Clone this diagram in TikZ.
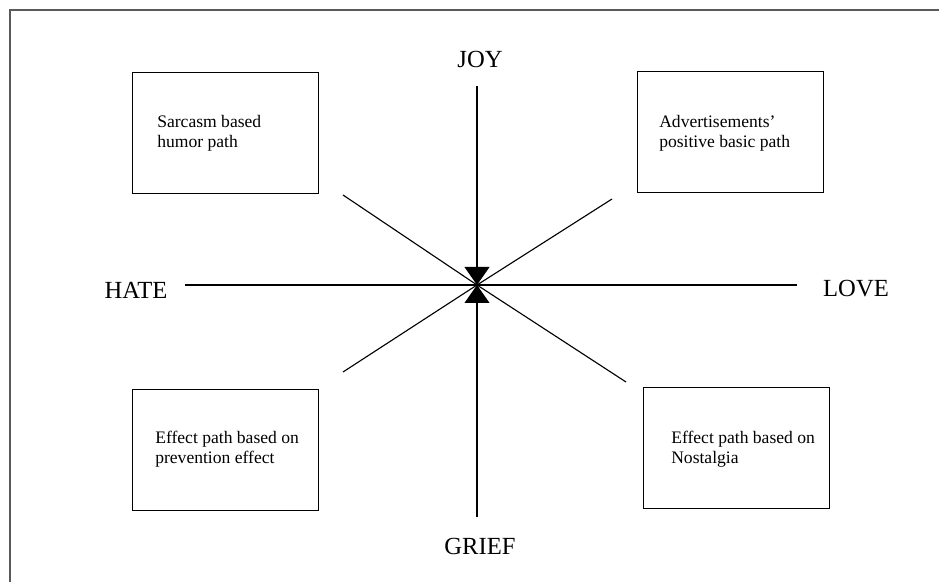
\documentclass[tikz,border=0pt]{standalone}
\usepackage{fontspec}
\setmainfont{Liberation Serif}
\usetikzlibrary{positioning, arrows.meta, calc}
\definecolor{framegray}{HTML}{5A5A5A}
\tikzset{axis label/.style={font=\fontsize{17.5}{21}\selectfont, inner sep=0pt},
         path box/.style={draw, line width=0.9pt, minimum width=132pt, minimum height=86pt, inner sep=0pt, anchor=north west},
         box text/.style={font=\fontsize{12.5}{14.2}\selectfont, align=left, inner sep=0pt, anchor=north west},
         axis/.style={line width=0.8pt},
         tip/.style={-{Triangle[length=12.8pt, width=17.7pt]}},
        }

\begin{document}
\begin{tikzpicture}[x=0.025cm, y=-0.025cm]
        \useasboundingbox (0,0) rectangle (939,582);
        \draw[framegray, line width=1.4pt](10,582)--(10,10)--(939,10);

        \coordinate(c)at(477,285);
        \node[axis label](joy)at(480,59){JOY};
        \node[axis label](grief)at(480,546){GRIEF};
        \node[axis label](hate)at(136,290){HATE};
        \node[axis label](love)at(856,289){LOVE};

        \coordinate(joyend)at(477,86);
        \coordinate(griefend)at(477,517);
        \coordinate(hateend)at(185,285);
        \coordinate(loveend)at(797,285);
        \coordinate(ul)at(343,195);
        \coordinate(ur)at(612,199);
        \coordinate(ll)at(343,372);
        \coordinate(lr)at(626,382);

        \draw[axis](hateend)--(loveend);
        \draw[axis](ul)--(c)--(lr);
        \draw[axis](ur)--(c)--(ll);
        \draw[axis,tip](joyend)--(c);
        \draw[axis,tip](griefend)--(c);

        \node[path box](sarcasm)at(132,72){};
        \node[path box](advert)at(637,71){};
        \node[path box](prevent)at(132,389){};
        \node[path box](nostalgia)at(643,387){};

        \node[box text](sarcasmtext)at($(sarcasm.north west)+(25,43)$){Sarcasm based\\humor path};
        \node[box text](adverttext)at($(advert.north west)+(22,44)$){Advertisements'\\positive basic path};
        \node[box text](preventtext)at($(prevent.north west)+(23,42)$){Effect path based on\\prevention effect};
        \node[box text](nostalgiatext)at($(nostalgia.north west)+(28,44)$){Effect path based on\\Nostalgia};
    \end{tikzpicture}
\end{document}
